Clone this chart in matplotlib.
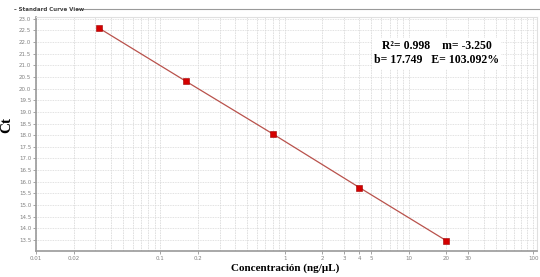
import matplotlib
matplotlib.use("Agg")
import matplotlib.pyplot as plt
import matplotlib.ticker as mticker
import numpy as np

# standard curve data (5-fold dilutions)
conc = [0.032, 0.16, 0.8, 4.0, 20.0]
ct = [22.60, 20.32, 18.06, 15.75, 13.47]

x_ticks = [0.01, 0.02, 0.1, 0.2, 1, 2, 3, 4, 5, 10, 20, 30, 100]
x_labels = ['0.01', '0.02', '0.1', '0.2', '1', '2', '3', '4', '5', '10', '20', '30', '100']
y_ticks = np.arange(13.5, 23.01, 0.5)

fig = plt.figure(figsize=(5.4, 2.77), dpi=100)
ax = fig.add_axes([0.067, 0.095, 0.927, 0.844])

ax.set_xscale('log')
ax.set_xlim(0.01, 107)
ax.set_ylim(13.04, 23.08)

# grid
ax.xaxis.set_major_locator(mticker.FixedLocator(x_ticks))
ax.xaxis.set_major_formatter(mticker.FixedFormatter(x_labels))
ax.xaxis.set_minor_locator(mticker.LogLocator(base=10, subs=np.arange(1, 10)))
ax.xaxis.set_minor_formatter(mticker.NullFormatter())
ax.set_yticks(y_ticks)
ax.yaxis.set_major_formatter(mticker.FormatStrFormatter('%.1f'))
ax.grid(True, which='both', axis='x', color='#dcdcdc', lw=0.6, ls=(0, (2, 1)))
ax.grid(True, which='major', axis='y', color='#d8d8d8', lw=0.6, ls=(0, (1, 1)))
ax.set_axisbelow(True)

ax.tick_params(axis='both', which='major', labelsize=4, colors='#808080', length=2, width=0.5, pad=1.5)
ax.tick_params(axis='both', which='minor', length=0)

for side in ['left', 'bottom']:
    ax.spines[side].set_color('#9a9a9a')
    ax.spines[side].set_linewidth(1.2)
for side in ['top', 'right']:
    ax.spines[side].set_color('#e0e0e0')
    ax.spines[side].set_linewidth(0.8)

ax.plot(conc, ct, color='#b9524c', lw=0.9, zorder=3)
ax.plot(conc, ct, ls='none', marker='s', ms=4.5, mfc='#d40000', mec='#a00000', mew=0.4, zorder=4)

# axis titles placed on the figure so they stay inside the small canvas
fig.text(0.012, 0.55, 'Ct', family='Liberation Serif', fontweight='bold', fontsize=11,
         rotation=90, ha='center', va='center')
fig.text(0.528, 0.032, 'Concentración (ng/μL)', family='Liberation Serif', fontweight='bold',
         fontsize=8, ha='center', va='center')

ax.text(0.80, 0.845, 'R²= 0.998    m= -3.250\nb= 17.749   E= 103.092%',
        transform=ax.transAxes, ha='center', va='center', family='Liberation Serif',
        fontweight='bold', fontsize=8.5, linespacing=1.3,
        bbox=dict(facecolor='white', edgecolor='none', pad=1.5), zorder=5)

# panel header
fig.text(0.026, 0.967, '– Standard Curve View', fontsize=4, fontweight='bold', color='#404040', va='center')
fig.add_artist(plt.Line2D([0.143, 1.0], [0.967, 0.967], color='#9a9a9a', lw=0.8))

fig.savefig('out.png', dpi=100)
